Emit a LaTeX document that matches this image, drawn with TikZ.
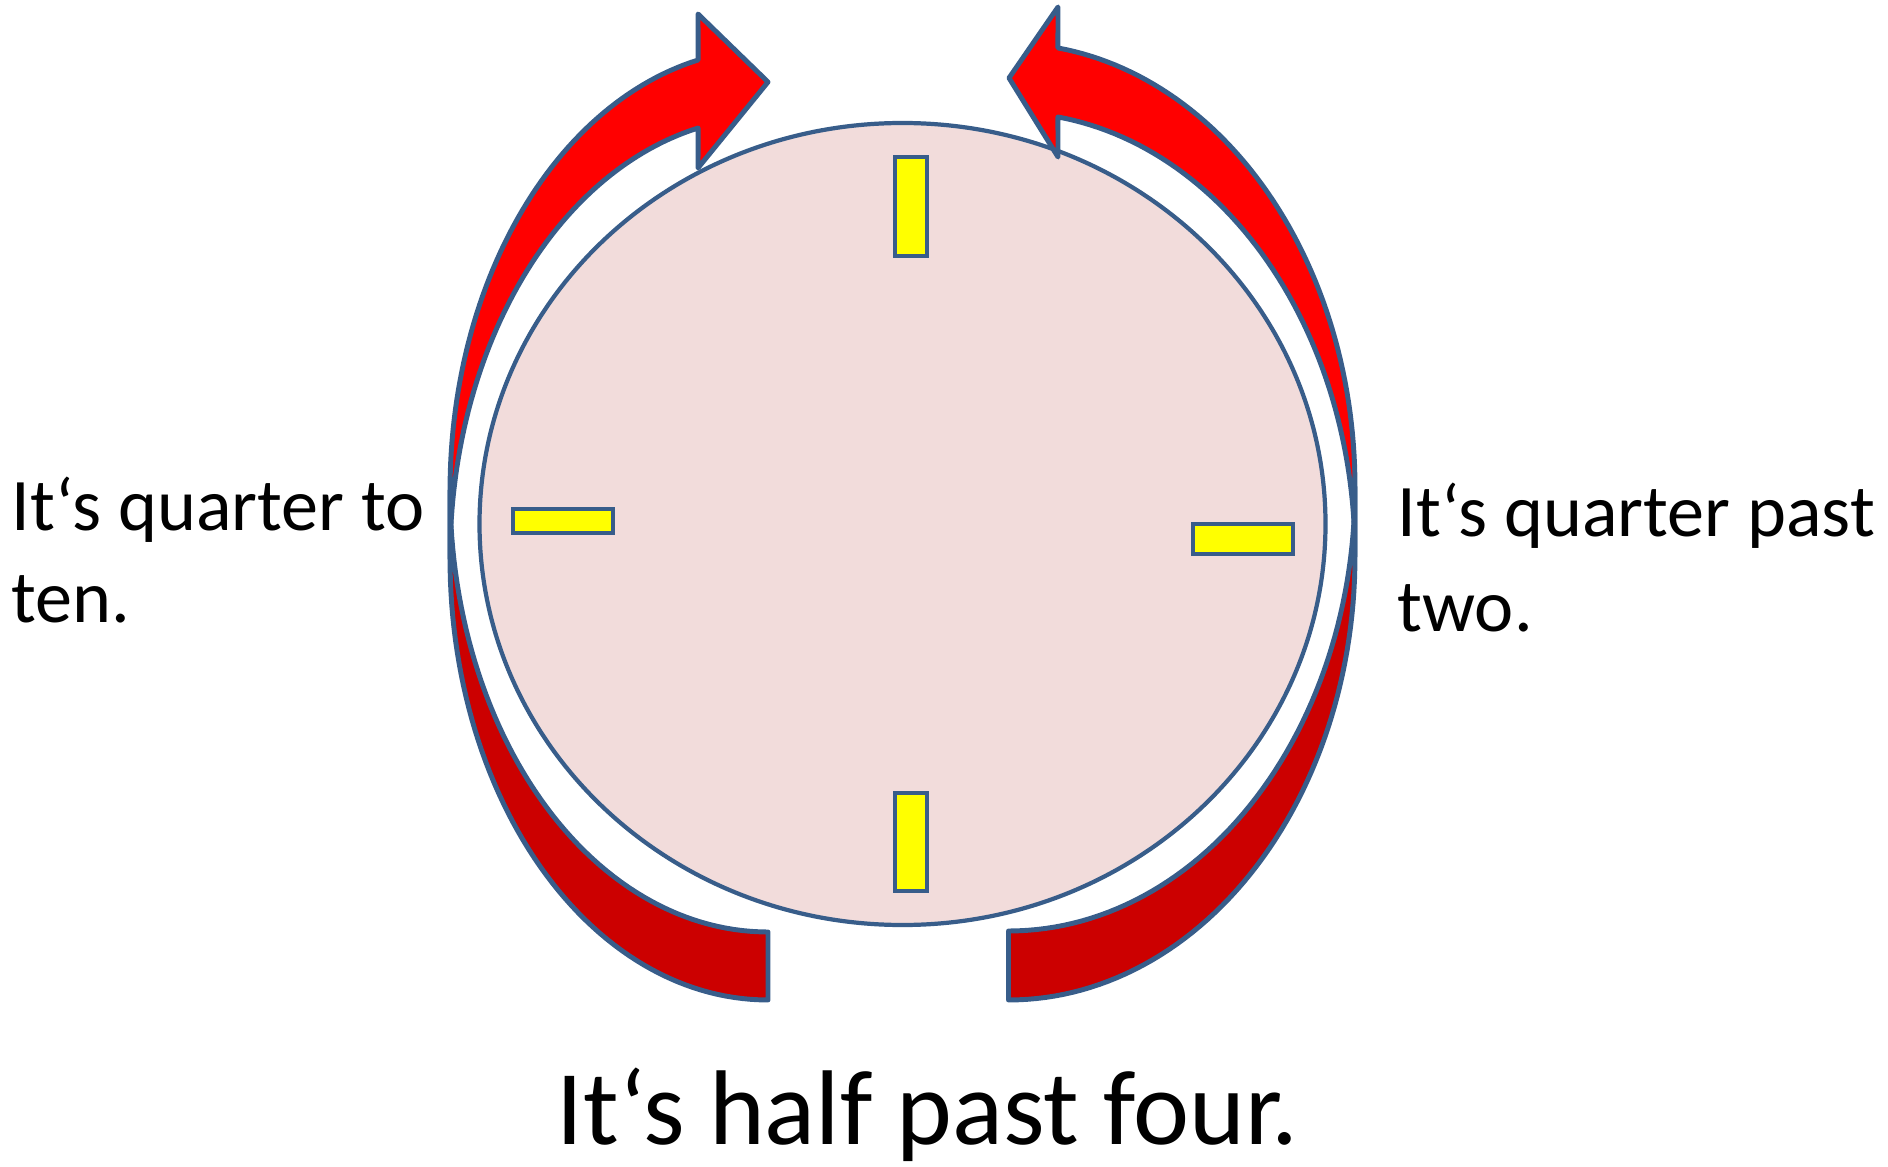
\documentclass[tikz,border=0pt]{standalone}
\usepackage{fontspec}
\setmainfont{Carlito}
\definecolor{edge}{HTML}{385D8A}
\definecolor{lightred}{HTML}{FF0000}
\definecolor{darkred}{HTML}{CC0000}
\definecolor{facecol}{HTML}{F2DCDB}
\definecolor{markcol}{HTML}{FFFF00}
\begin{document}
\begin{tikzpicture}[x=0.01cm,y=-0.01cm,
  band/.style={draw=edge, line width=1.4pt, line join=round},
  dial/.style={draw=edge, fill=facecol, line width=1.2pt},
  tick/.style={draw=edge, fill=markcol, line width=1.1pt},
  lbl/.style={inner sep=0pt, anchor=base west, font=\fontsize{21.1}{25}\selectfont},
  big/.style={inner sep=0pt, anchor=base west, font=\fontsize{30.2}{36}\selectfont}]
\useasboundingbox (0,0) rectangle (1888,1167);
% clock face
\draw[dial] (902.5,524) ellipse [x radius=423, y radius=401];
% hour marks
\draw[tick] (895,157) rectangle (927,256);
\draw[tick] (895,793) rectangle (927,891);
\draw[tick] (513,509) rectangle (613,533);
\draw[tick] (1193,524) rectangle (1293,554);
% left curved arrow: back part
\draw[band, fill=darkred]
  plot[domain=180:90, samples=60, variable=\t] ({768+318*cos(\t)},{558.6+441.4*sin(\t)})
  -- plot[domain=90:180, samples=60, variable=\t] ({768+318*cos(\t)},{490.6+441.4*sin(\t)})
  -- cycle;
% left curved arrow: front part with head
\draw[band, fill=lightred]
  plot[domain=180:257.3, samples=60, variable=\t] ({768+318*cos(\t)},{558.6+441.4*sin(\t)})
  -- (698,168) -- (768,82) -- (698,14)
  -- plot[domain=257.3:180, samples=60, variable=\t] ({768+318*cos(\t)},{490.6+441.4*sin(\t)})
  -- cycle;
% right curved arrow: back part
\draw[band, fill=darkred]
  plot[domain=0:90, samples=60, variable=\t] ({1008.5+346.5*cos(\t)},{556.2+443.8*sin(\t)})
  -- plot[domain=90:0, samples=60, variable=\t] ({1008.5+346.5*cos(\t)},{487.2+443.8*sin(\t)})
  -- cycle;
% right curved arrow: front part with head
\draw[band, fill=lightred]
  plot[domain=0:-81.8, samples=60, variable=\t] ({1008.5+346.5*cos(\t)},{556.2+443.8*sin(\t)})
  -- (1058,157) -- (1009,78) -- (1058,7)
  -- plot[domain=-81.8:0, samples=60, variable=\t] ({1008.5+346.5*cos(\t)},{487.2+443.8*sin(\t)})
  -- cycle;
% labels
\node[lbl] (left1) at (11,530) {It‘s quarter to};
\node[lbl] (left2) at (11,622) {ten.};
\node[lbl] (right1) at (1397,536) {It‘s quarter past};
\node[lbl] (right2) at (1397,631) {two.};
\node[big] (bottom) at (556,1144) {It‘s half past four.};
\end{tikzpicture}
\end{document}
